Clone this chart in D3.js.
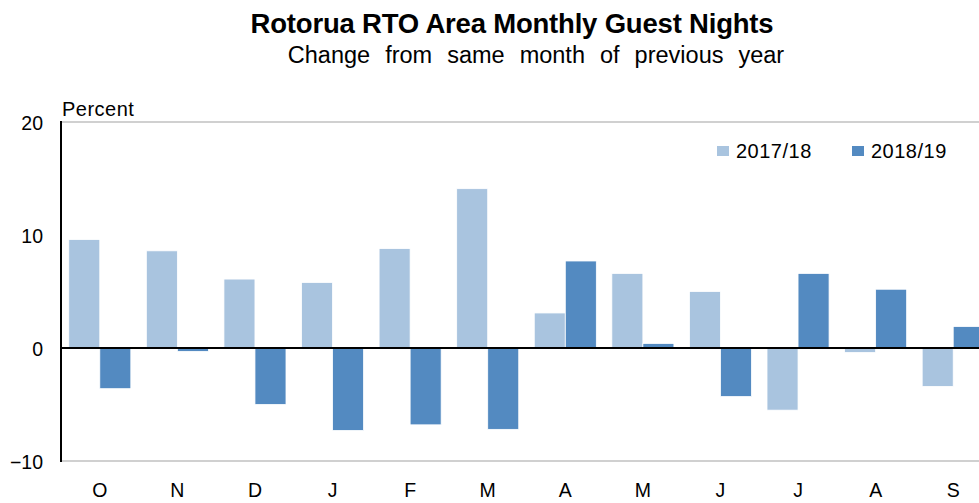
<!DOCTYPE html>
<html>
<head>
<meta charset="utf-8">
<script src="https://cdn.jsdelivr.net/npm/d3@7"></script>
<style>
  body { margin: 0; background: #fff; }
  svg { font-family: "Liberation Sans", Arial, sans-serif; }
</style>
</head>
<body>
<svg width="979" height="503"></svg>
<script>
// data
const months = ['O', 'N', 'D', 'J', 'F', 'M', 'A', 'M', 'J', 'J', 'A', 'S'];
const seriesNames = ['2017/18', '2018/19'];
const values1718 = [9.6, 8.6, 6.1, 5.8, 8.8, 14.1, 3.1, 6.6, 5.0, -5.5, -0.4, -3.4];
const values1819 = [-3.6, -0.3, -5.0, -7.3, -6.8, -7.2, 7.7, 0.4, -4.3, 6.6, 5.2, 1.9];
const yTicks = [-10, 0, 10, 20];
const colors = ['#a9c4df', '#538ac1'];

const svg = d3.select('svg');
const plotL = 61, plotR = 992, plotT = 122, plotB = 461;

// group index used as band key so repeated month letters stay separate
const x = d3.scaleBand().domain(d3.range(months.length)).range([plotL, plotR]).paddingInner(0.2).paddingOuter(0.1);
const xs = d3.scaleBand().domain(seriesNames).range([0, x.bandwidth()]);
const y = d3.scaleLinear().domain([-10, 20]).range([plotB, plotT]);

// titles
svg.append('text').attr('x', 512).attr('y', 33).attr('text-anchor', 'middle')
    .style('font-size', '27.5px').style('font-weight', 'bold').style('letter-spacing', '-0.2px')
    .text('Rotorua RTO Area Monthly Guest Nights');
svg.append('text').attr('x', 536).attr('y', 63).attr('text-anchor', 'middle')
    .style('font-size', '23.5px').style('word-spacing', '8.5px')
    .text('Change from same month of previous year');

// plot frame (gray top/bottom)
svg.append('line').attr('x1', plotL).attr('x2', 979).attr('y1', plotT).attr('y2', plotT).style('stroke', '#d0d0d0').style('stroke-width', 2);
svg.append('line').attr('x1', plotL).attr('x2', 979).attr('y1', plotB).attr('y2', plotB).style('stroke', '#d0d0d0').style('stroke-width', 2);

// bars
const rows = months.map((m, i) => ({i, vals: [values1718[i], values1819[i]]}));
const g = svg.append('g').selectAll('g').data(rows).enter().append('g')
    .attr('transform', d => `translate(${x(d.i)},0)`);
g.selectAll('rect').data(d => d.vals.map((v, k) => ({v, k}))).enter().append('rect')
    .attr('x', d => xs(seriesNames[d.k]))
    .attr('width', xs.bandwidth())
    .attr('y', d => y(Math.max(0, d.v)))
    .attr('height', d => Math.abs(y(d.v) - y(0)))
    .style('fill', d => colors[d.k])
    .style('stroke', '#fff').style('stroke-width', 0.8);

// zero line and left axis
svg.append('line').attr('x1', plotL).attr('x2', 979).attr('y1', y(0)).attr('y2', y(0)).style('stroke', '#000').style('stroke-width', 2);
svg.append('line').attr('x1', plotL).attr('x2', plotL).attr('y1', plotT - 1).attr('y2', plotB + 1).style('stroke', '#000').style('stroke-width', 2);

// y tick labels
const yAxis = svg.append('g').attr('transform', `translate(${plotL},0)`)
    .call(d3.axisLeft(y).tickValues(yTicks).tickSize(0).tickPadding(18));
yAxis.select('.domain').remove();
yAxis.selectAll('text').attr('dy', '0.4em').style('font-size', '19.5px').style('fill', '#000').style('font-family', '"Liberation Sans", Arial, sans-serif');

// x tick labels
const xAxis = svg.append('g').attr('transform', `translate(0,${plotB})`)
    .call(d3.axisBottom(x).tickFormat(i => months[i]).tickSize(0).tickPadding(22));
xAxis.select('.domain').remove();
xAxis.selectAll('text').style('font-size', '19.5px').style('fill', '#000').style('font-family', '"Liberation Sans", Arial, sans-serif');

svg.append('text').attr('x', 62).attr('y', 116).style('font-size', '20px').style('letter-spacing', '0.5px').text('Percent');

// legend
const legendX = [717, 852];
const leg = svg.append('g').selectAll('g').data(seriesNames).enter().append('g')
    .attr('transform', (d, i) => `translate(${legendX[i]},146)`);
leg.append('rect').attr('width', 12).attr('height', 10).style('fill', (d, i) => colors[i]);
leg.append('text').attr('x', 19).attr('y', 11.5).style('font-size', '20px').style('letter-spacing', '0.5px').text(d => d);
</script>
</body>
</html>
